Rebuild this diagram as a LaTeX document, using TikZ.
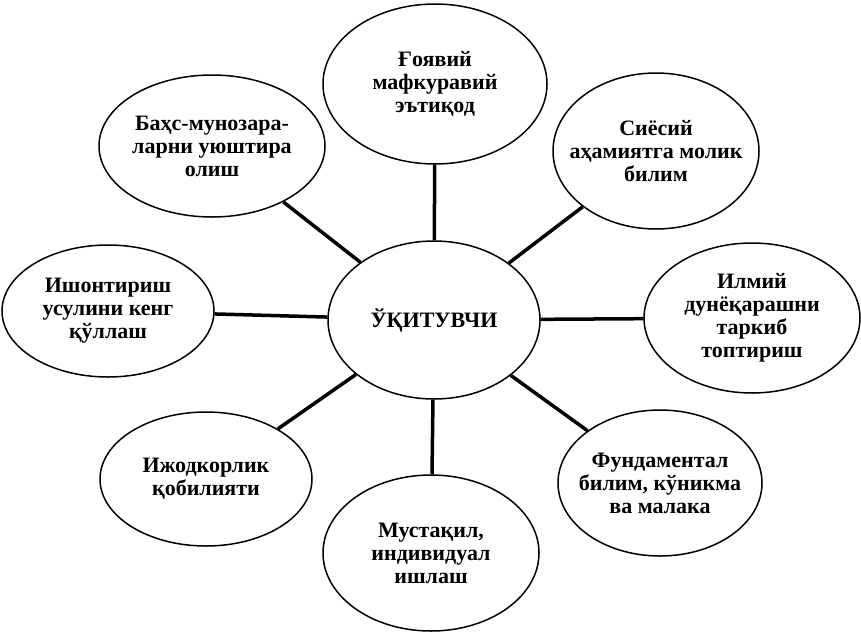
\documentclass[tikz,border=0pt]{standalone}
\usepackage{fontspec}
\setmainfont{Liberation Serif}
\usetikzlibrary{shapes.geometric}
\begin{document}
\begin{tikzpicture}[x=1pt,y=-1pt,
    idea/.style={ellipse,draw,line width=1.5pt,inner sep=0pt},
    words/.style={align=center,inner sep=0pt,
      font=\fontsize{22}{23}\selectfont\bfseries},
    link/.style={line width=3.5pt}]

    \useasboundingbox (0,0) rectangle (861,635);

    \node[idea,minimum width=212pt,minimum height=158pt,label={[words]center:ЎҚИТУВЧИ}] (teacher) at (434,320) {};

    \node[idea,minimum width=224pt,minimum height=160pt,label={[words]center:Ғоявий\\мафкуравий\\эътиқод}] (ideo) at (435,84) {};
    \node[idea,minimum width=206pt,minimum height=156pt,label={[words]center:Сиёсий\\аҳамиятга молик\\билим}] (sies) at (656,151) {};
    \node[idea,minimum width=216pt,minimum height=150pt,label={[words]center:Илмий\\дунёқарашни\\таркиб\\топтириш}] (ilm) at (752,318) {};
    \node[idea,minimum width=204pt,minimum height=146pt,label={[words]center:Фундаментал\\билим, кўникма\\ва малака}] (fund) at (660,483) {};
    \node[idea,minimum width=216pt,minimum height=156pt,label={[words]center:Мустақил,\\индивидуал\\ишлаш}] (must) at (431,553) {};
    \node[idea,minimum width=212pt,minimum height=134pt,label={[words]center:Ижодкорлик\\қобилияти}] (ijod) at (206,479) {};
    \node[idea,minimum width=212pt,minimum height=132pt,label={[words]center:Ишонтириш\\усулини кенг\\қўллаш}] (ishon) at (108,311) {};
    \node[idea,minimum width=226pt,minimum height=142pt,label={[words]center:Баҳс-мунозара-\\ларни уюштира\\олиш}] (bahs) at (212,146) {};

    % spokes
    \foreach \n in {ideo,sies,ilm,fund,must,ijod,ishon,bahs}
      \draw[link] (teacher) -- (\n);

\end{tikzpicture}
\end{document}
